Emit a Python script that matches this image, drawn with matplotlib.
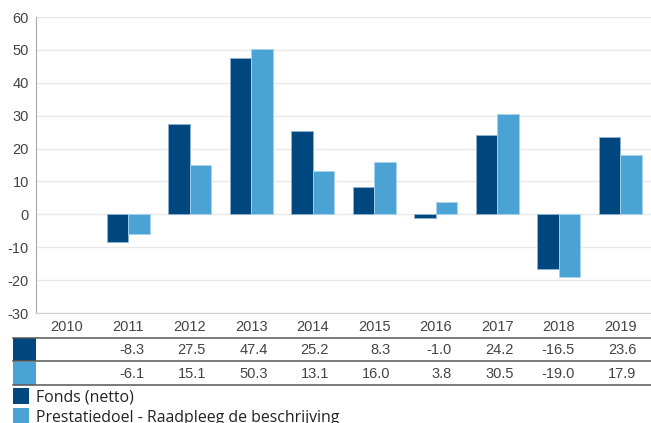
import matplotlib.pyplot as plt
import numpy as np
from matplotlib.patches import Rectangle

years = ["2010", "2011", "2012", "2013", "2014", "2015", "2016", "2017", "2018", "2019"]
fonds = [np.nan, -8.3, 27.5, 47.4, 25.2, 8.3, -1.0, 24.2, -16.5, 23.6]
doel = [np.nan, -6.1, 15.1, 50.3, 13.1, 16.0, 3.8, 30.5, -19.0, 17.9]
names = ["Fonds (netto)", "Prestatiedoel - Raadpleeg de beschrijving"]
dark = "#00467f"
light = "#4aa3d4"
W, H = 651, 423

plt.rcParams["axes.unicode_minus"] = False

fig = plt.figure(figsize=(W / 100, H / 100), dpi=100)
# main chart, pixel box 36..651 x 17..313
ax = fig.add_axes([36 / W, 1 - 313 / H, 1 - 36 / W, (313 - 17) / H])
x = np.arange(len(years))
bw = 0.35
ax.bar(x - bw / 2, fonds, bw, color=dark, edgecolor="#8fb3d0", linewidth=0.6, zorder=3)
ax.bar(x + bw / 2, doel, bw, color=light, edgecolor="#a9d3ec", linewidth=0.6, zorder=3)

ax.set_xlim(-0.5, len(years) - 0.5)
ax.set_ylim(-30, 60)
ax.set_yticks(range(-30, 61, 10))
ax.grid(axis="y", color="#e8e8e8", linewidth=1, zorder=0)
ax.set_xticks(x, years)
ax.tick_params(length=0, labelsize=10.5, labelcolor="#444444")
ax.tick_params(axis="y", pad=5)
ax.tick_params(axis="x", pad=5)
for lab in ax.get_xticklabels() + ax.get_yticklabels():
    lab.set_fontfamily("Liberation Sans")
for s in ["top", "right"]:
    ax.spines[s].set_visible(False)
ax.spines["left"].set_color("#a8a8a8")
ax.spines["bottom"].set_color("#d0d0d0")

# overlay in pixel coordinates for the data table and the legend
ov = fig.add_axes([0, 0, 1, 1], zorder=5)
ov.set_xlim(0, W)
ov.set_ylim(H, 0)
ov.axis("off")
ov.patch.set_alpha(0)

fig.canvas.draw()
renderer = fig.canvas.get_renderer()
right_edges = [lab.get_window_extent(renderer).x1 for lab in ax.get_xticklabels()]

rows = [(338, 361.5, fonds, dark), (362, 385, doel, light)]
for top, bot, vals, col in rows:
    ov.add_patch(Rectangle((13, top), 23, bot - top, color=col, lw=0))
    for xr, v in zip(right_edges, vals):
        if np.isnan(v):
            continue
        ov.text(xr, (top + bot) / 2 + 0.5, f"{v:.1f}", ha="right", va="center",
                fontsize=10.5, color="#444444", family="Liberation Sans")
for yl in [338, 361.5, 385]:
    ov.plot([13, W], [yl, yl], color="#555555", lw=1.1)

for i, (nm, col) in enumerate(zip(names, [dark, light])):
    y0 = 388 + i * 20
    ov.add_patch(Rectangle((13, y0), 16, 16, color=col, lw=0))
    ov.text(36, y0 + 10, nm, ha="left", va="center", fontsize=11.4,
            color="#222222", family="Open Sans")

fig.savefig("out.png", dpi=100)
